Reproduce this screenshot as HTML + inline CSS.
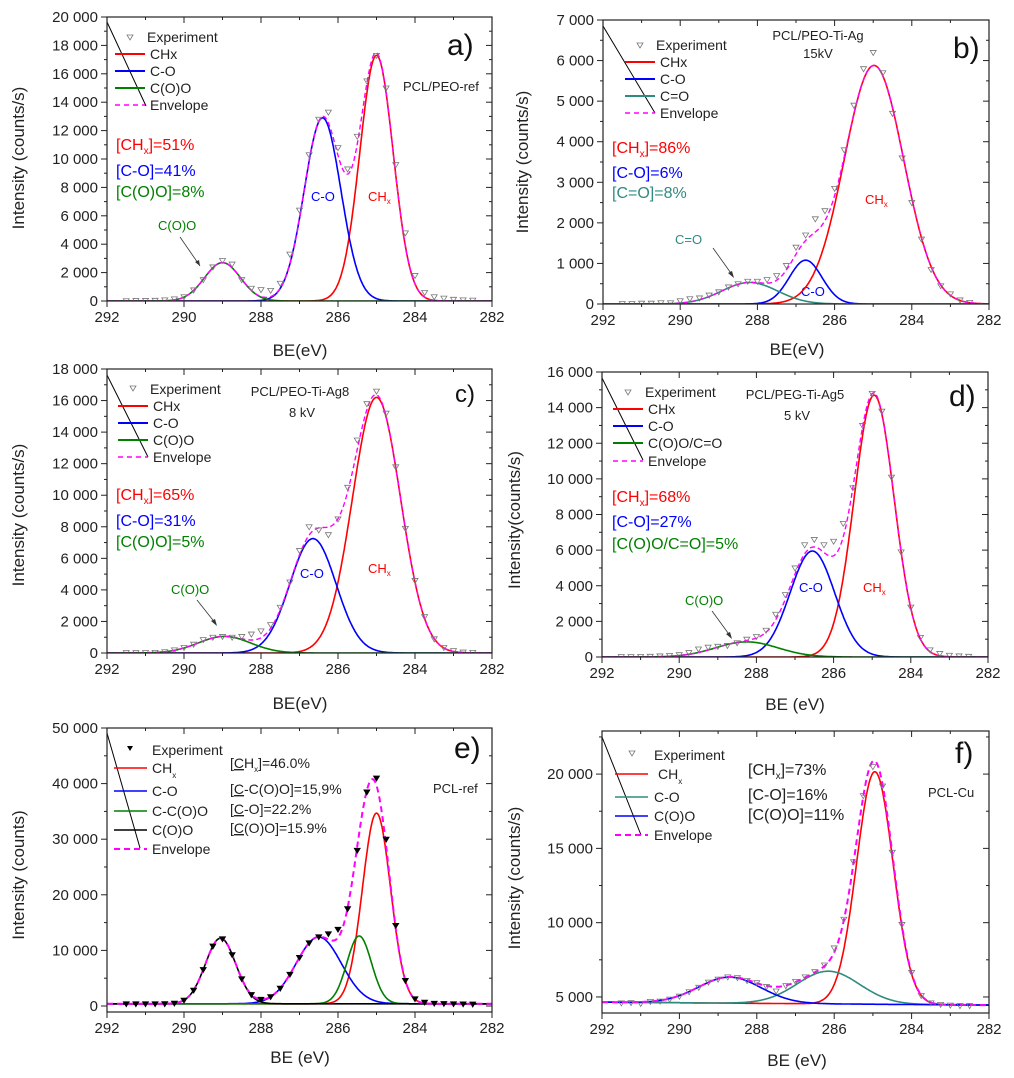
<!DOCTYPE html>
<html><head><meta charset="utf-8"><title>XPS C1s spectra</title>
<style>
html,body{margin:0;padding:0;background:#fff;}
svg{display:block;font-family:"Liberation Sans",Arial,sans-serif;}
.tl{font-size:15px;fill:#222;}
.at{font-size:17px;fill:#222;}
.lg{font-size:14px;fill:#222;}
.pc{font-size:16px;}
.an{font-size:13px;}
</style></head>
<body>
<svg id="fig" width="1014" height="1078" viewBox="0 0 1014 1078" xmlns="http://www.w3.org/2000/svg">
<rect width="1014" height="1078" fill="#fff"/>

<g>
  <line x1="107" y1="22" x2="146" y2="106" stroke="#000" stroke-width="1"/>
  <path d="M127,35 L133,35 L130,40 Z" fill="none" stroke="#777" stroke-width="0.8"/>
  <text class="lg" x="147" y="42">Experiment</text>
  <line x1="115" y1="54" x2="145" y2="54" stroke="#f00" stroke-width="2"/>
  <text class="lg" x="150" y="59">CHx</text>
  <line x1="115" y1="71" x2="145" y2="71" stroke="#00f" stroke-width="2"/>
  <text class="lg" x="150" y="76">C-O</text>
  <line x1="115" y1="88" x2="145" y2="88" stroke="#008000" stroke-width="2"/>
  <text class="lg" x="150" y="93">C(O)O</text>
  <line x1="115" y1="105" x2="145" y2="105" stroke="#f0f" stroke-width="1.5" stroke-dasharray="5,4"/>
  <text class="lg" x="150" y="110">Envelope</text>
  <text class="pc" x="116" y="150" fill="#f00">[CH<tspan font-size="10" dy="4">x</tspan><tspan dy="-4">]=51%</tspan></text>
  <text class="pc" x="116" y="176" fill="#00f">[C-O]=41%</text>
  <text class="pc" x="116" y="197" fill="#008000">[C(O)O]=8%</text>
  <text class="an" x="403" y="91" fill="#222">PCL/PEO-ref</text>
  <text x="447" y="55" font-size="30" fill="#111">a)</text>
  <text class="an" x="311" y="201" fill="#00f">C-O</text>
  <text class="an" x="368" y="201" fill="#f00">CH<tspan font-size="8" dy="3">x</tspan></text>
  <text class="an" x="158" y="230" fill="#008000">C(O)O</text>
  <line x1="180" y1="237" x2="200" y2="266" stroke="#333" stroke-width="0.8"/>
  <path d="M200,266 L195,262 L199,260 Z" fill="#333"/>
  <text class="at" x="300" y="356" text-anchor="middle">BE(eV)</text>
  <text class="at" transform="translate(24,158) rotate(-90)" text-anchor="middle">Intensity (counts/s)</text>
</g>

<g>
  <line x1="603" y1="26" x2="655" y2="113" stroke="#000" stroke-width="1"/>
  <path d="M637,43 L643,43 L640,48 Z" fill="none" stroke="#777" stroke-width="0.8"/>
  <text class="lg" x="656" y="50">Experiment</text>
  <line x1="625" y1="62" x2="655" y2="62" stroke="#f00" stroke-width="2"/>
  <text class="lg" x="660" y="67">CHx</text>
  <line x1="625" y1="79" x2="655" y2="79" stroke="#00f" stroke-width="2"/>
  <text class="lg" x="660" y="84">C-O</text>
  <line x1="625" y1="96" x2="655" y2="96" stroke="#2e8b7f" stroke-width="2"/>
  <text class="lg" x="660" y="101">C=O</text>
  <line x1="625" y1="113" x2="655" y2="113" stroke="#f0f" stroke-width="1.5" stroke-dasharray="5,4"/>
  <text class="lg" x="660" y="118">Envelope</text>
  <text class="an" x="818" y="40" text-anchor="middle" fill="#222">PCL/PEO-Ti-Ag</text>
  <text class="an" x="818" y="58" text-anchor="middle" fill="#222">15kV</text>
  <text x="953" y="58" font-size="30" fill="#111">b)</text>
  <text class="pc" x="612" y="153" fill="#f00">[CH<tspan font-size="10" dy="4">x</tspan><tspan dy="-4">]=86%</tspan></text>
  <text class="pc" x="612" y="178" fill="#00f">[C-O]=6%</text>
  <text class="pc" x="612" y="198" fill="#2e8b7f">[C=O]=8%</text>
  <text class="an" x="865" y="204" fill="#f00">CH<tspan font-size="8" dy="3">x</tspan></text>
  <text class="an" x="801" y="296" fill="#00f">C-O</text>
  <text class="an" x="675" y="244" fill="#2e8b7f">C=O</text>
  <line x1="713" y1="248" x2="733" y2="276" stroke="#333" stroke-width="0.8"/>
  <path d="M734,278 L728,273 L732,271 Z" fill="#333"/>
  <text class="at" x="797" y="355" text-anchor="middle">BE(eV)</text>
  <text class="at" transform="translate(528,162) rotate(-90)" text-anchor="middle">Intensity (counts/s)</text>
</g>

<g>
  <line x1="107" y1="375" x2="148" y2="457" stroke="#000" stroke-width="1"/>
  <path d="M130,386 L136,386 L133,391 Z" fill="none" stroke="#777" stroke-width="0.8"/>
  <text class="lg" x="150" y="394">Experiment</text>
  <line x1="118" y1="406" x2="148" y2="406" stroke="#f00" stroke-width="2"/>
  <text class="lg" x="153" y="411">CHx</text>
  <line x1="118" y1="423" x2="148" y2="423" stroke="#00f" stroke-width="2"/>
  <text class="lg" x="153" y="428">C-O</text>
  <line x1="118" y1="440" x2="148" y2="440" stroke="#008000" stroke-width="2"/>
  <text class="lg" x="153" y="445">C(O)O</text>
  <line x1="118" y1="457" x2="148" y2="457" stroke="#f0f" stroke-width="1.5" stroke-dasharray="5,4"/>
  <text class="lg" x="153" y="462">Envelope</text>
  <text class="an" x="300" y="396" text-anchor="middle" fill="#222">PCL/PEO-Ti-Ag8</text>
  <text class="an" x="302" y="417" text-anchor="middle" fill="#222">8 kV</text>
  <text x="455" y="402" font-size="24" fill="#111">c)</text>
  <text class="pc" x="116" y="500" fill="#f00">[CH<tspan font-size="10" dy="4">x</tspan><tspan dy="-4">]=65%</tspan></text>
  <text class="pc" x="116" y="526" fill="#00f">[C-O]=31%</text>
  <text class="pc" x="116" y="547" fill="#008000">[C(O)O]=5%</text>
  <text class="an" x="300" y="578" fill="#00f">C-O</text>
  <text class="an" x="368" y="573" fill="#f00">CH<tspan font-size="8" dy="3">x</tspan></text>
  <text class="an" x="171" y="594" fill="#008000">C(O)O</text>
  <line x1="197" y1="600" x2="216" y2="624" stroke="#333" stroke-width="0.8"/>
  <path d="M217,626 L211,621 L215,619 Z" fill="#333"/>
  <text class="at" x="300" y="709" text-anchor="middle">BE(eV)</text>
  <text class="at" transform="translate(24,515) rotate(-90)" text-anchor="middle">Intensity (counts/s)</text>
</g>

<g>
  <line x1="602" y1="378" x2="643" y2="460" stroke="#000" stroke-width="1"/>
  <path d="M625,390 L631,390 L628,395 Z" fill="none" stroke="#777" stroke-width="0.8"/>
  <text class="lg" x="645" y="397">Experiment</text>
  <line x1="613" y1="409" x2="643" y2="409" stroke="#f00" stroke-width="2"/>
  <text class="lg" x="648" y="414">CHx</text>
  <line x1="613" y1="426" x2="643" y2="426" stroke="#00f" stroke-width="2"/>
  <text class="lg" x="648" y="431">C-O</text>
  <line x1="613" y1="443" x2="643" y2="443" stroke="#008000" stroke-width="2"/>
  <text class="lg" x="648" y="448">C(O)O/C=O</text>
  <line x1="613" y1="461" x2="643" y2="461" stroke="#f0f" stroke-width="1.5" stroke-dasharray="5,4"/>
  <text class="lg" x="648" y="466">Envelope</text>
  <text class="an" x="795" y="399" text-anchor="middle" fill="#222">PCL/PEG-Ti-Ag5</text>
  <text class="an" x="797" y="420" text-anchor="middle" fill="#222">5 kV</text>
  <text x="949" y="406" font-size="30" fill="#111">d)</text>
  <text class="pc" x="612" y="502" fill="#f00">[CH<tspan font-size="10" dy="4">x</tspan><tspan dy="-4">]=68%</tspan></text>
  <text class="pc" x="612" y="527" fill="#00f">[C-O]=27%</text>
  <text class="pc" x="612" y="549" fill="#008000">[C(O)O/C=O]=5%</text>
  <text class="an" x="799" y="592" fill="#00f">C-O</text>
  <text class="an" x="863" y="592" fill="#f00">CH<tspan font-size="8" dy="3">x</tspan></text>
  <text class="an" x="685" y="605" fill="#008000">C(O)O</text>
  <line x1="712" y1="611" x2="731" y2="637" stroke="#333" stroke-width="0.8"/>
  <path d="M732,639 L726,634 L730,632 Z" fill="#333"/>
  <text class="at" x="795" y="710" text-anchor="middle">BE (eV)</text>
  <text class="at" transform="translate(520,520) rotate(-90)" text-anchor="middle">Intensity(counts/s)</text>
</g>

<g>
  <line x1="107" y1="733" x2="140" y2="848" stroke="#000" stroke-width="1"/>
  <path d="M127,746 L133,746 L130,751 Z" fill="#000"/>
  <text class="lg" x="152" y="755">Experiment</text>
  <line x1="114" y1="768" x2="147" y2="768" stroke="#f00" stroke-width="1.5"/>
  <text class="lg" x="152" y="773">CH<tspan font-size="8" dy="5">x</tspan></text>
  <line x1="114" y1="791" x2="147" y2="791" stroke="#00f" stroke-width="1.5"/>
  <text class="lg" x="152" y="796">C-O</text>
  <line x1="114" y1="811" x2="147" y2="811" stroke="#008000" stroke-width="1.5"/>
  <text class="lg" x="152" y="816">C-C(O)O</text>
  <line x1="114" y1="830" x2="147" y2="830" stroke="#000" stroke-width="1.5"/>
  <text class="lg" x="152" y="835">C(O)O</text>
  <line x1="114" y1="849" x2="147" y2="849" stroke="#f0f" stroke-width="2" stroke-dasharray="6,4"/>
  <text class="lg" x="152" y="854">Envelope</text>
  <text class="lg" x="230" y="768" fill="#222">[<tspan text-decoration="underline">C</tspan>H<tspan font-size="8" dy="4">x</tspan><tspan dy="-4">]=46.0%</tspan></text>
  <text class="lg" x="230" y="794" fill="#222">[<tspan text-decoration="underline">C</tspan>-C(O)O]=15,9%</text>
  <text class="lg" x="230" y="814" fill="#222">[<tspan text-decoration="underline">C</tspan>-O]=22.2%</text>
  <text class="lg" x="230" y="833" fill="#222">[<tspan text-decoration="underline">C</tspan>(O)O]=15.9%</text>
  <text x="454" y="758" font-size="30" fill="#111">e)</text>
  <text class="an" x="433" y="793" fill="#222">PCL-ref</text>
  <text class="at" x="300" y="1063" text-anchor="middle">BE (eV)</text>
  <text class="at" transform="translate(24,875) rotate(-90)" text-anchor="middle">Intensity (counts)</text>
</g>

<g>
  <line x1="602" y1="737" x2="641" y2="835" stroke="#000" stroke-width="1"/>
  <path d="M629,751 L635,751 L632,756 Z" fill="none" stroke="#777" stroke-width="0.8"/>
  <text class="lg" x="654" y="760">Experiment</text>
  <line x1="615" y1="774" x2="648" y2="774" stroke="#f00" stroke-width="1.5"/>
  <text class="lg" x="658" y="779">CH<tspan font-size="8" dy="5">x</tspan></text>
  <line x1="615" y1="797" x2="648" y2="797" stroke="#2e8b7f" stroke-width="1.5"/>
  <text class="lg" x="654" y="802">C-O</text>
  <line x1="615" y1="816" x2="648" y2="816" stroke="#00f" stroke-width="1.5"/>
  <text class="lg" x="654" y="821">C(O)O</text>
  <line x1="615" y1="835" x2="648" y2="835" stroke="#f0f" stroke-width="2" stroke-dasharray="6,4"/>
  <text class="lg" x="654" y="840">Envelope</text>
  <text class="pc" x="748" y="775" fill="#222">[CH<tspan font-size="10" dy="4">x</tspan><tspan dy="-4">]=73%</tspan></text>
  <text class="pc" x="748" y="800" fill="#222">[C-O]=16%</text>
  <text class="pc" x="748" y="820" fill="#222">[C(O)O]=11%</text>
  <text x="955" y="763" font-size="30" fill="#111">f)</text>
  <text class="an" x="928" y="797" fill="#222">PCL-Cu</text>
  <text class="at" x="797" y="1066" text-anchor="middle">BE (eV)</text>
  <text class="at" transform="translate(520,878) rotate(-90)" text-anchor="middle">Intensity (counts/s)</text>
</g>

<g id="plots"></g>
</svg>

<script>
const expBE = [291.5,291.25,291.0,290.75,290.5,290.25,290.0,289.75,289.5,289.25,289.0,288.75,288.5,288.25,288.0,287.75,287.5,287.25,287.0,286.75,286.5,286.25,286.0,285.75,285.5,285.25,285.0,284.75,284.5,284.25,284.0,283.75,283.5,283.25,283.0,282.75,282.5];
const xTicks = [292,290,288,286,284,282];

const aCenters = [285.0, 286.4, 289.0];
const aHeights = [17300, 12900, 2700];
const aFwhm = [1.02, 1.12, 1.1];
const aBaseline = [0, 0];
const aExp = [20,30,40,50,80,150,300,780,1500,2400,2850,2600,1500,900,800,750,1250,3300,6400,10300,12800,13300,10800,9300,11600,15500,17300,15000,9600,4800,1800,600,300,200,120,80,60];
const aYTicks = [0,2000,4000,6000,8000,10000,12000,14000,16000,18000,20000];

const bCenters = [284.98, 286.75, 288.2];
const bHeights = [5880, 1080, 530];
const bFwhm = [1.81, 1.0, 1.7];
const bBaseline = [0, 0];
const bExp = [10,10,20,20,30,30,80,130,150,220,300,420,500,560,560,600,700,950,1400,1700,2100,2300,2850,3800,4900,5800,6200,5700,4700,3600,2500,1600,850,450,250,100,40];
const bYTicks = [0,1000,2000,3000,4000,5000,6000,7000];

const cCenters = [285.0, 286.65, 288.95];
const cHeights = [16200, 7250, 1050];
const cFwhm = [1.47, 1.41, 1.6];
const cBaseline = [0, 0];
const cExp = [20,20,30,40,80,200,350,560,850,1000,1050,1000,1050,1200,1400,1800,2900,4500,6500,8000,7800,7500,8500,10500,13500,15800,16600,15200,11800,7900,4600,2300,900,350,150,60,40];
const cYTicks = [0,2000,4000,6000,8000,10000,12000,14000,16000,18000];

const dCenters = [284.95, 286.55, 288.25];
const dHeights = [14700, 5950, 850];
const dFwhm = [1.22, 1.36, 1.9];
const dBaseline = [0, 0];
const dExp = [20,20,30,40,60,90,130,250,450,550,600,650,800,1000,1150,1500,2400,3500,5000,6300,6600,6300,6500,7500,9500,13000,14800,13800,10100,5900,2800,1100,400,200,100,60,40];
const dYTicks = [0,2000,4000,6000,8000,10000,12000,14000,16000];

const eCenters = [285.0, 286.5, 285.45, 289.05];
const eHeights = [34300, 12000, 12200, 11800];
const eFwhm = [0.86, 1.38, 0.75, 0.93];
const eBaseline = [400, 400];
const eExp = [400,400,400,400,420,520,1055,2850,6560,10780,12100,9240,4900,2060,1200,1690,3200,5700,8740,11360,12450,13000,13800,17500,28000,38500,41000,30000,14500,4600,1300,700,500,450,400,380,350];
const eYTicks = [0,10000,20000,30000,40000,50000];

const fCenters = [284.95, 286.15, 288.7];
const fHeights = [15650, 2200, 1750];
const fFwhm = [1.11, 1.9, 1.9];
const fBaseline = [4650, 4450];
const fExp = [4600,4620,4560,4700,4720,4850,5050,5350,5650,6000,6200,6350,6300,6100,5960,5700,5400,5760,6050,6350,6700,7150,8300,10230,14100,18550,20500,19200,14740,9880,6650,5100,4600,4500,4450,4420,4420];
const fYTicks = [5000,10000,15000,20000];

const NS = 'http://www.w3.org/2000/svg';
const root = document.getElementById('plots');
function mk(tag, attrs, parent) {
  const e = document.createElementNS(NS, tag);
  for (const k in attrs) e.setAttribute(k, attrs[k]);
  parent.appendChild(e);
  return e;
}
function fmt(v) { return String(v).replace(/\B(?=(\d{3})+(?!\d))/g, ' '); }

function drawPanel(id, L, centers, heights, fwhm, baseline, exp, yTicks, colors) {
  const g = mk('g', {}, root);
  
  
  const sx = be => L.x0 + (292 - be) / 10 * (L.x1 - L.x0);
  const sy = v => L.y1 - (v - L.ymin) / (L.ymax - L.ymin) * (L.y1 - L.y0);
  const base = be => baseline[0] + (292 - be) / 10 * (baseline[1] - baseline[0]);
  const gauss = (i, be) => heights[i] * Math.exp(-4 * Math.LN2 * Math.pow(be - centers[i], 2) / (fwhm[i] * fwhm[i]));

  const cp = mk('clipPath', {id: 'clip-' + id}, g);
  mk('rect', {x: L.x0, y: L.y0, width: L.x1 - L.x0, height: L.y1 - L.y0}, cp);
  const plot = mk('g', {'clip-path': 'url(#clip-' + id + ')'}, g);
  
  

  const steps = [];
  for (let be = 292; be >= 281.999; be -= 0.02) steps.push(be);
  for (let i = 0; i < centers.length; i++) {
    const d = steps.map((be, k) => (k ? 'L' : 'M') + sx(be).toFixed(1) + ',' + sy(base(be) + gauss(i, be)).toFixed(1)).join('');
    const p = mk('path', {d: d, fill: 'none', stroke: colors[i], 'stroke-width': 1.6}, plot);
    
    
  }
  const env = steps.map((be, k) => {
    let s = base(be);
    for (let i = 0; i < centers.length; i++) s += gauss(i, be);
    return (k ? 'L' : 'M') + sx(be).toFixed(1) + ',' + sy(s).toFixed(1);
  }).join('');
  const ep = mk('path', {d: env, fill: 'none', stroke: '#ff00ff', 'stroke-width': L.envW || 1.4, 'stroke-dasharray': L.envDash || '5,3'}, plot);
  
  
  for (let k = 0; k < exp.length; k++) {
    const x = sx(expBE[k]), y = sy(exp[k]);
    const t = mk('path', {d: 'M' + (x - 3) + ',' + (y - 2) + 'L' + (x + 3) + ',' + (y - 2) + 'L' + x + ',' + (y + 3) + 'Z',
      fill: L.filled ? '#000' : 'none', stroke: L.filled ? '#000' : '#777', 'stroke-width': 0.8}, plot);
    
    
  }

  const fr = mk('rect', {x: L.x0, y: L.y0, width: L.x1 - L.x0, height: L.y1 - L.y0, fill: 'none', stroke: '#222', 'stroke-width': 1.2}, g);
  
  

  for (let be = 292; be >= 282; be -= 1) {
    const x = sx(be);
    const major = (be % 2 === 0);
    const len = major ? 6 : 3;
    mk('line', {x1: x, y1: L.y1, x2: x, y2: L.y1 + len, stroke: '#222', 'stroke-width': 1}, g);
    mk('line', {x1: x, y1: L.y0, x2: x, y2: L.y0 + len, stroke: '#222', 'stroke-width': 1}, g);
  }
  for (const v of xTicks) {
    const t = mk('text', {x: sx(v), y: L.y1 + 21, 'text-anchor': 'middle', class: 'tl'}, g);
    t.textContent = v;
    
    
  }
  const step = yTicks[1] - yTicks[0];
  for (let v = yTicks[0] - step; v <= L.ymax + 1; v += step / 2) {
    if (v < L.ymin - 1) continue;
    const y = sy(v);
    const major = yTicks.indexOf(v) >= 0;
    const len = major ? 6 : 3;
    mk('line', {x1: L.x0 - len, y1: y, x2: L.x0, y2: y, stroke: '#222', 'stroke-width': 1}, g);
    mk('line', {x1: L.x1 - len, y1: y, x2: L.x1, y2: y, stroke: '#222', 'stroke-width': 1}, g);
  }
  for (const v of yTicks) {
    const t = mk('text', {x: L.x0 - 9, y: sy(v) + 5, 'text-anchor': 'end', class: 'tl'}, g);
    t.textContent = fmt(v);
    
    
  }
}

drawPanel('a', {x0:107, x1:492, y0:17, y1:301, ymin:0, ymax:20000}, aCenters, aHeights, aFwhm, aBaseline, aExp, aYTicks, ['#ff0000','#0000ff','#008000']);
drawPanel('b', {x0:603, x1:989, y0:20, y1:304, ymin:0, ymax:7000}, bCenters, bHeights, bFwhm, bBaseline, bExp, bYTicks, ['#ff0000','#0000ff','#2e8b7f']);
drawPanel('c', {x0:107, x1:492, y0:369, y1:653, ymin:0, ymax:18000}, cCenters, cHeights, cFwhm, cBaseline, cExp, cYTicks, ['#ff0000','#0000ff','#008000']);
drawPanel('d', {x0:602, x1:988, y0:372, y1:657, ymin:0, ymax:16000}, dCenters, dHeights, dFwhm, dBaseline, dExp, dYTicks, ['#ff0000','#0000ff','#008000']);
drawPanel('e', {x0:107, x1:492, y0:728, y1:1012, ymin:-1080, ymax:50000, filled:true, envW:2, envDash:'6,4'}, eCenters, eHeights, eFwhm, eBaseline, eExp, eYTicks, ['#ff0000','#0000ff','#008000','#000000']);
drawPanel('f', {x0:602, x1:989, y0:731, y1:1013, ymin:3920, ymax:22900, envW:2, envDash:'6,4'}, fCenters, fHeights, fFwhm, fBaseline, fExp, fYTicks, ['#ff0000','#2e8b7f','#0000ff']);
</script>
</body></html>
